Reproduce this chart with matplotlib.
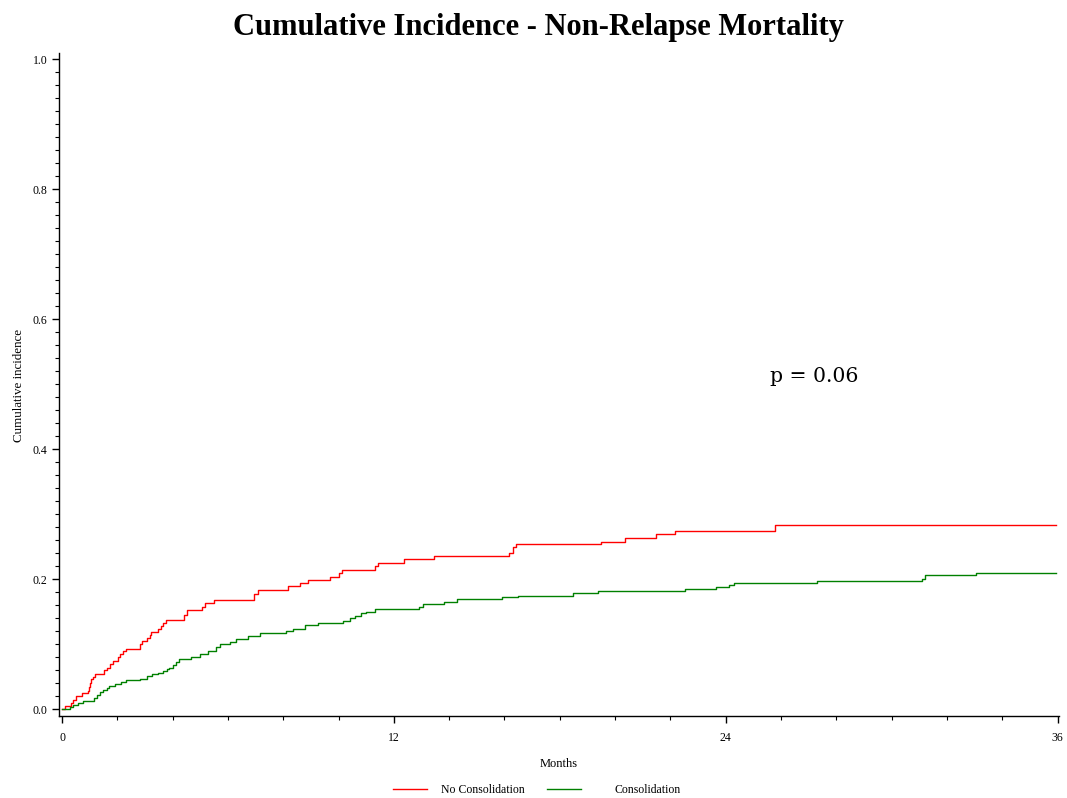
import numpy as np
import matplotlib
matplotlib.use('Agg')
import matplotlib.pyplot as plt
from matplotlib.ticker import MultipleLocator, FixedLocator
from matplotlib.lines import Line2D

# Step curves (months, cumulative incidence)
no_cons_t = [0, 0.11, 0.32, 0.41, 0.49, 0.71, 0.93, 0.98, 1.01, 1.04, 1.11, 1.19,
             1.53, 1.61, 1.73, 1.85, 2.03, 2.09, 2.19, 2.31, 2.82, 2.88, 3.08, 3.18,
             3.21, 3.48, 3.57, 3.66, 3.75, 4.42, 4.52, 5.07, 5.16, 5.50, 6.93, 7.09,
             8.17, 8.62, 8.89, 9.68, 10.00, 10.13, 11.30, 11.42, 12.38, 13.44, 16.17,
             16.30, 16.40, 19.50, 20.35, 21.47, 22.15, 25.77, 35.95]
no_cons_v = [0, 0.005, 0.009, 0.015, 0.021, 0.025, 0.028, 0.035, 0.040, 0.046, 0.050, 0.054,
             0.060, 0.064, 0.069, 0.074, 0.080, 0.085, 0.090, 0.093, 0.100, 0.105, 0.109, 0.114,
             0.119, 0.123, 0.128, 0.133, 0.138, 0.145, 0.153, 0.157, 0.163, 0.168, 0.178, 0.183,
             0.189, 0.194, 0.199, 0.204, 0.209, 0.214, 0.220, 0.225, 0.231, 0.236, 0.241,
             0.249, 0.254, 0.258, 0.264, 0.269, 0.275, 0.283, 0.283]

cons_t = [0, 0.29, 0.41, 0.59, 0.77, 1.17, 1.25, 1.37, 1.47, 1.64, 1.71, 1.91, 2.15,
          2.31, 2.82, 3.06, 3.24, 3.48, 3.66, 3.80, 3.87, 4.02, 4.14, 4.24, 4.68, 4.98,
          5.28, 5.58, 5.70, 6.06, 6.30, 6.73, 7.15, 8.09, 8.35, 8.77, 9.25, 10.16, 10.40,
          10.61, 10.82, 11.00, 11.30, 12.92, 13.04, 13.83, 14.27, 15.90, 16.50, 18.48,
          19.39, 22.53, 23.63, 24.11, 24.30, 27.30, 31.10, 31.20, 33.05, 35.95]
cons_v = [0, 0.003, 0.007, 0.010, 0.013, 0.018, 0.022, 0.026, 0.030, 0.033, 0.036, 0.039, 0.042,
          0.045, 0.047, 0.051, 0.054, 0.056, 0.059, 0.062, 0.064, 0.068, 0.072, 0.077, 0.080, 0.085,
          0.090, 0.096, 0.100, 0.104, 0.108, 0.113, 0.117, 0.121, 0.123, 0.129, 0.133, 0.136, 0.140,
          0.144, 0.148, 0.150, 0.155, 0.158, 0.162, 0.165, 0.169, 0.172, 0.175, 0.179,
          0.182, 0.185, 0.188, 0.191, 0.195, 0.198, 0.201, 0.206, 0.209, 0.209]

x_ticks = [0, 12, 24, 36]
y_ticks = [0.0, 0.2, 0.4, 0.6, 0.8, 1.0]

plt.rcParams['font.family'] = ['Liberation Serif', 'DejaVu Serif']

fig = plt.figure(figsize=(10.67, 7.98), dpi=100)
ax = fig.add_axes([0.055, 0.103, 0.9375, 0.831])

ax.step(no_cons_t, no_cons_v, where='post', color='#ff0000', lw=1.0)
ax.step(cons_t, cons_v, where='post', color='#008000', lw=1.0)

ax.set_xlim(-0.12, 36.05)
ax.set_ylim(-0.01, 1.01)
ax.xaxis.set_major_locator(FixedLocator(x_ticks))
ax.xaxis.set_minor_locator(MultipleLocator(2))
ax.yaxis.set_major_locator(FixedLocator(y_ticks))
ax.yaxis.set_minor_locator(MultipleLocator(0.02))
ax.set_xticklabels([str(t) for t in x_ticks])
ax.set_yticklabels([f'{t:.1f}' for t in y_ticks])
ax.tick_params(which='major', direction='out', length=5, width=1, labelsize=8.5, pad=3)
ax.tick_params(axis='x', which='major', pad=6.5)
ax.tick_params(which='minor', direction='out', length=3, width=0.8)

for s in ['top', 'right']:
    ax.spines[s].set_visible(False)
for s in ['left', 'bottom']:
    ax.spines[s].set_linewidth(1.0)

ax.set_xlabel('Months', fontsize=9, labelpad=10.5)
ax.set_ylabel('Cumulative incidence', fontsize=9.4)
ax.yaxis.set_label_coords(-0.0337, 0.498)

ax.text(25.6, 0.512, 'p = 0.06', fontsize=14.7, family='DejaVu Serif', va='center', ha='left')

fig.suptitle('Cumulative Incidence - Non-Relapse Mortality', fontsize=22,
             fontweight='bold', x=0.505, y=0.984)

# two legend entries, spaced like the reference table
leg1 = fig.legend([Line2D([], [], color='#ff0000', lw=1.0)], ['No Consolidation'],
                  loc='center left', bbox_to_anchor=(0.3683, 0.010), frameon=False,
                  fontsize=8.5, handlelength=2.9, handletextpad=1.2,
                  borderpad=0, borderaxespad=0)
leg2 = fig.legend([Line2D([], [], color='#008000', lw=1.0)], ['Consolidation'],
                  loc='center left', bbox_to_anchor=(0.5127, 0.010), frameon=False,
                  fontsize=8.5, handlelength=2.9, handletextpad=2.8,
                  borderpad=0, borderaxespad=0)

fig.savefig('out.png', dpi=100)
